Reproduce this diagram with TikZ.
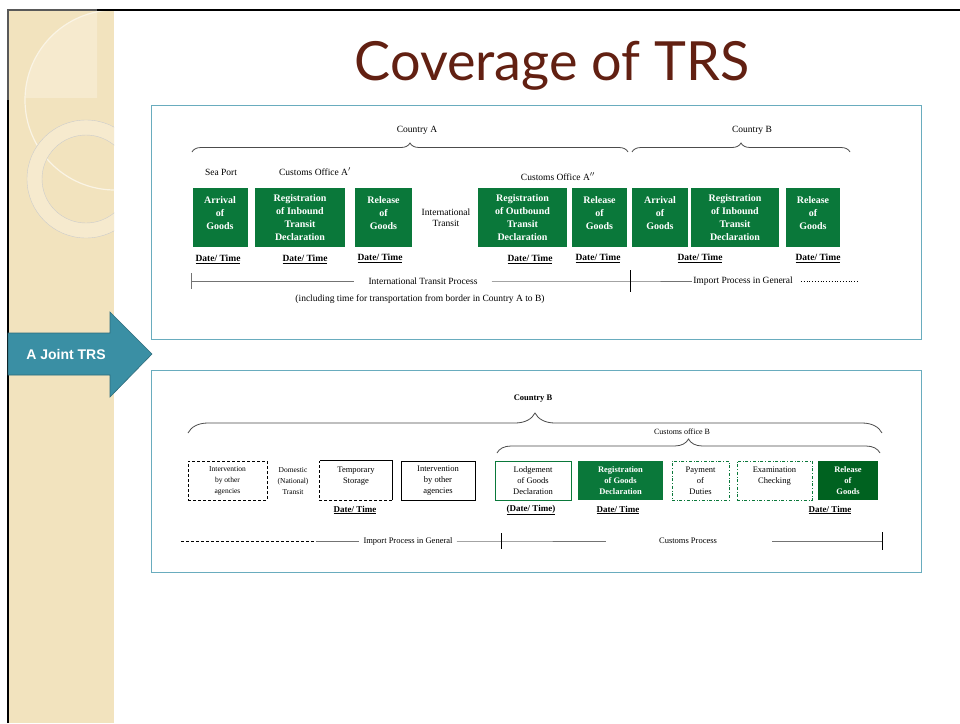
\documentclass[tikz,border=0pt]{standalone}
\usepackage{fontspec}
\setmainfont{Liberation Serif}
\newfontfamily\titlefont{Lato}
\newfontfamily\arrowfont{Liberation Sans}
\usetikzlibrary{decorations.pathreplacing,positioning}
\definecolor{trsgreen}{RGB}{10,120,58}
\definecolor{trsdark}{RGB}{0,98,32}
\definecolor{panelline}{RGB}{105,172,190}
\definecolor{stripbeige}{RGB}{242,227,190}
\definecolor{stripnote}{RGB}{246,234,206}
\definecolor{arrowteal}{RGB}{58,143,164}
\definecolor{titlebrown}{RGB}{98,32,18}
\begin{document}
\begin{tikzpicture}[x=1pt,y=-1pt,
    gbox/.style={fill=trsgreen,text=white,font=\fontsize{10}{13}\selectfont\bfseries,align=center,inner sep=0pt,minimum height=59pt},
    pbox/.style={align=center,inner sep=0pt,minimum height=39pt,font=\fontsize{8.5}{11}\selectfont},
    datelbl/.style={font=\fontsize{9.5}{11}\selectfont\bfseries},
    lbl/.style={font=\fontsize{9.5}{11}\selectfont},
    brc/.style={decorate,decoration={brace,amplitude=#1},draw=black!70,line width=.8pt},
    tline/.style={draw=black!55,line width=.7pt}]
    \useasboundingbox (0,0) rectangle (960,723);
    \fill[white] (0,0) rectangle (960,723);

    % side strip
    \fill[stripbeige] (8,10) rectangle (114,723);
    \begin{scope}
        \clip (8,10) rectangle (97,97);
        \fill[stripnote] (115,100) circle (90);
    \end{scope}
    \begin{scope}
        \clip (8,10) rectangle (114,723);
        \draw[white!60!stripbeige,line width=1.2pt] (115,100) circle (90);
        \fill[stripnote,even odd rule] (86,179) circle (59) (86,179) circle (44);
        \draw[black!20,line width=.4pt] (86,179) circle (59) (86,179) circle (44);
    \end{scope}
    \draw[line width=1.5pt] (8,723) -- (8,10) -- (960,10);
    \draw[black!65,line width=2.5pt] (8,100) -- (8,10) -- (97,10);

    \node[titlebrown,font=\titlefont\fontsize{54}{60}\selectfont,anchor=base] (title) at (552,80) {Coverage of TRS};

    \fill[arrowteal,draw=arrowteal!75!black,line width=.6pt] (8,333) -- (110,333) -- (110,312) -- (152,354) -- (110,397) -- (110,375) -- (8,375) -- cycle;
    \node[white,font=\arrowfont\fontsize{14}{16}\selectfont\bfseries] (joint) at (66,354) {A Joint TRS};

    % transit panel
    \draw[panelline,line width=1pt] (151,105) rectangle (921,339);
    \node[lbl] (ctyA) at (417,130) {Country A};
    \node[lbl] (ctyB) at (752,130) {Country B};
    \draw[brc=9pt] (192,152) -- (628,152);
    \draw[brc=9pt] (632,152) -- (850,152);
    \node[lbl] (seaport) at (221,172) {Sea Port};
    \node[lbl] (coA) at (315,172) {Customs Office A$'$};
    \node[lbl] (coAA) at (558,177) {Customs Office A$''$};

    \node[gbox,minimum width=55pt] (arrA) at (220,217.5) {Arrival\\of\\Goods\\[-5pt]\mbox{}};
    \node[gbox,minimum width=90pt] (regInA) at (300,217.5) {Registration\\of Inbound\\Transit\\Declaration};
    \node[gbox,minimum width=57pt] (relA) at (383.5,217.5) {Release\\of\\Goods\\[-5pt]\mbox{}};
    \node[lbl,align=center] (intl) at (446,218) {International\\Transit};
    \node[gbox,minimum width=89pt] (regOut) at (522.5,217.5) {Registration\\of Outbound\\Transit\\Declaration};
    \node[gbox,minimum width=55pt] (relAA) at (599.5,217.5) {Release\\of\\Goods\\[-5pt]\mbox{}};
    \node[gbox,minimum width=56pt] (arrB) at (660,217.5) {Arrival\\of\\Goods\\[-5pt]\mbox{}};
    \node[gbox,minimum width=88pt] (regInB) at (735,217.5) {Registration\\of Inbound\\Transit\\Declaration};
    \node[gbox,minimum width=54pt] (relB) at (813,217.5) {Release\\of\\Goods\\[-5pt]\mbox{}};

    \node[datelbl] (dtArrA) at (218,259) {\underline{Date/ Time}};
    \node[datelbl] (dtRegA) at (305,259) {\underline{Date/ Time}};
    \node[datelbl] (dtRelA) at (380,258) {\underline{Date/ Time}};
    \node[datelbl] (dtOut) at (530,259) {\underline{Date/ Time}};
    \node[datelbl] (dtRelAA) at (598,258) {\underline{Date/ Time}};
    \node[datelbl] (dtB) at (700,258) {\underline{Date/ Time}};
    \node[datelbl] (dtRelB) at (818,258) {\underline{Date/ Time}};

    \coordinate (tlStart) at (191,281);
    \coordinate (tlMid) at (630,281);
    \coordinate (tlEnd) at (859,281);
    \node[lbl,inner xsep=14pt] (itp) at (423,281) {International Transit Process};
    \node[lbl,inner xsep=1pt] (ipg) at (743,281) {Import Process in General};
    \draw[tline] (tlStart) -- (itp.west) (itp.east) -- (tlMid) -- (ipg.west);
    \draw[tline] (tlStart) ++(0,-8) -- ++(0,16);
    \draw[line width=1pt] (tlMid) ++(0,-11) -- ++(0,22);
    \draw[dotted,line width=.8pt] ([xshift=7pt]ipg.east) -- (tlEnd);
    \node[lbl] (incl) at (420,299) {(including time for transportation from border in Country A to B)};

    % import panel
    \draw[panelline,line width=1pt] (151,370) rectangle (921,572);
    \node[lbl,font=\fontsize{8.5}{10}\selectfont\bfseries] (ctyBB) at (533,399) {Country B};
    \draw[brc=20pt] (188,433) -- (882,433);
    \node[lbl,font=\fontsize{8}{10}\selectfont] (coB) at (682,432) {Customs office B};
    \draw[brc=14pt] (497,453) -- (880,453);

    \node[pbox,draw,densely dashed,line width=1pt,minimum width=79pt,font=\fontsize{7.5}{11}\selectfont] (intvA) at (227.5,480.5) {Intervention\\by other\\agencies};
    \node[align=center,font=\fontsize{7.5}{11}\selectfont] (domT) at (293,481) {Domestic\\(National)\\Transit};
    \node[pbox,minimum width=72pt] (tmpS) at (356,480.5) {Temporary\\Storage\\\mbox{}};
    \draw[line width=1pt] (tmpS.north west) -- (tmpS.north east) -- (tmpS.south east);
    \draw[densely dashed,line width=1pt] (tmpS.south east) -- (tmpS.south west) -- (tmpS.north west);
    \node[pbox,draw,line width=1pt,minimum width=74pt] (intvB) at (438,480.5) {Intervention\\by other\\agencies};
    \node[pbox,draw=trsgreen,line width=.9pt,minimum width=76pt] (lodge) at (533,480.5) {Lodgement\\of Goods\\Declaration};
    \node[pbox,fill=trsgreen,text=white,font=\fontsize{8.5}{11}\selectfont\bfseries,minimum width=85pt] (regG) at (620.5,480.5) {Registration\\of Goods\\Declaration};
    \node[pbox,draw=trsgreen,dash dot,line width=.9pt,minimum width=57pt] (pay) at (700.5,480.5) {Payment\\of\\Duties};
    \node[pbox,draw=trsgreen,dash dot,line width=.9pt,minimum width=75pt] (exam) at (774.5,480.5) {Examination\\Checking\\\mbox{}};
    \node[pbox,fill=trsdark,text=white,font=\fontsize{8.5}{11}\selectfont\bfseries,minimum width=60pt] (relG) at (848,480.5) {Release\\of\\Goods};

    \node[datelbl,font=\fontsize{9}{10}\selectfont\bfseries] (dtTmp) at (355,510) {\underline{Date/ Time}};
    \node[datelbl,font=\fontsize{9}{10}\selectfont\bfseries] (dtLodge) at (531,510) {\underline{(Date/ Time)}};
    \node[datelbl,font=\fontsize{9}{10}\selectfont\bfseries] (dtRegG) at (618,510) {\underline{Date/ Time}};
    \node[datelbl,font=\fontsize{9}{10}\selectfont\bfseries] (dtRelG) at (830,510) {\underline{Date/ Time}};

    \coordinate (ipStart) at (181,541);
    \coordinate (ipDash) at (316,541);
    \coordinate (cpTick) at (501,541);
    \coordinate (cpGap) at (606,541);
    \coordinate (cpResume) at (772,541);
    \coordinate (cpEnd) at (882,541);
    \node[lbl,font=\fontsize{8.5}{10}\selectfont,inner xsep=4pt] (ipgB) at (408,541) {Import Process in General};
    \node[lbl,font=\fontsize{8.5}{10}\selectfont] (cusP) at (688,541) {Customs Process};
    \draw[densely dashed,line width=.7pt] (ipStart) -- (ipDash);
    \draw[tline] (ipDash) -- (ipgB.west) (ipgB.east) -- (cpTick) -- (cpGap) (cpResume) -- (cpEnd);
    \draw[line width=1pt] (cpTick) ++(0,-8) -- ++(0,16);
    \draw[line width=1pt] (cpEnd) ++(0,-9) -- ++(0,18);
\end{tikzpicture}
\end{document}
